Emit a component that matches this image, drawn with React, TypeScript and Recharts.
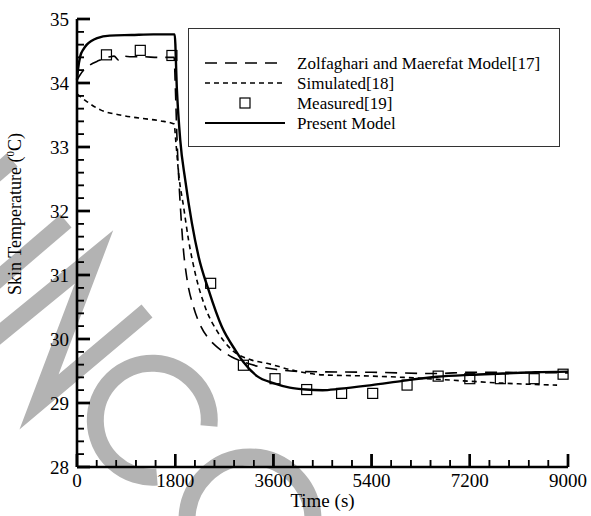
import React from "react";
import { ComposedChart, Line, Scatter, XAxis, YAxis, Legend } from "recharts";

if (typeof document !== "undefined") {
  document.body.style.margin = "0";
}

// ---- data ----
const presentTime = [0, 20, 60, 120, 180, 270, 370, 600, 1000, 1400, 1790, 1831, 1892, 1983, 2106, 2228, 2410, 2655, 2899, 3050, 3300, 3600, 3900, 4200, 4500, 4800, 5400, 6000, 6600, 7200, 7800, 8400, 9000];
const presentTemp = [34.05, 34.22, 34.42, 34.53, 34.6, 34.66, 34.7, 34.74, 34.75, 34.76, 34.76, 33.9, 33.11, 32.49, 31.81, 31.29, 30.77, 30.19, 29.83, 29.64, 29.42, 29.31, 29.24, 29.21, 29.2, 29.22, 29.28, 29.35, 29.41, 29.44, 29.46, 29.48, 29.49];

const zolfTime = [0, 100, 200, 400, 600, 680, 760, 850, 1000, 1200, 1500, 1780, 1800, 1830, 1860, 1900, 1950, 2014, 2136, 2258, 2400, 2533, 2700, 2838, 3000, 3200, 3600, 4200, 5400, 6600, 7200, 9000];
const zolfTemp = [34.05, 34.18, 34.26, 34.35, 34.41, 34.42, 34.36, 34.42, 34.41, 34.41, 34.4, 34.4, 34.0, 33.2, 32.6, 32.0, 31.4, 30.95, 30.5, 30.22, 30.02, 29.9, 29.79, 29.72, 29.66, 29.6, 29.53, 29.49, 29.48, 29.46, 29.48, 29.47];

const simTime = [0, 180, 430, 790, 1160, 1520, 1780, 1810, 1861, 1953, 2044, 2166, 2349, 2593, 2838, 3204, 3479, 3966, 4500, 5400, 6000, 6600, 7200, 7800, 8400, 8800];
const simTemp = [33.83, 33.71, 33.58, 33.5, 33.45, 33.41, 33.36, 33.1, 32.6, 32.07, 31.55, 31.03, 30.5, 30.09, 29.83, 29.67, 29.62, 29.51, 29.44, 29.42, 29.4, 29.37, 29.34, 29.31, 29.29, 29.28];

const measTime = [540, 1160, 1740, 2450, 3050, 3630, 4210, 4850, 5420, 6050, 6620, 7200, 7760, 8380, 8910];
const measTemp = [34.44, 34.51, 34.43, 30.87, 29.59, 29.38, 29.21, 29.15, 29.15, 29.28, 29.42, 29.38, 29.38, 29.38, 29.45];

const seriesNames = ["Zolfaghari and Maerefat Model[17]", "Simulated[18]", "Measured[19]", "Present Model"];

const xMajorTicks = [0, 1800, 3600, 5400, 7200, 9000];
const xMinorTicks = [360, 720, 1080, 1440, 2160, 2520, 2880, 3240, 3960, 4320, 4680, 5040, 5760, 6120, 6480, 6840, 7560, 7920, 8280, 8640];
const yMajorTicks = [28, 29, 30, 31, 32, 33, 34, 35];
const yMinorTicks = [28.2, 28.4, 28.6, 28.8, 29.2, 29.4, 29.6, 29.8, 30.2, 30.4, 30.6, 30.8, 31.2, 31.4, 31.6, 31.8, 32.2, 32.4, 32.6, 32.8, 33.2, 33.4, 33.6, 33.8, 34.2, 34.4, 34.6, 34.8];
const X_DOMAIN = [0, 9000];
const Y_DOMAIN = [28, 35];

const toRows = (ts: number[], vs: number[]) => ts.map((t, i) => ({ t, T: vs[i] }));
const presentData = toRows(presentTime, presentTemp);
const zolfData = toRows(zolfTime, zolfTemp);
const simData = toRows(simTime, simTemp);
const measData = toRows(measTime, measTemp);

const xTickMarks = [
  ...xMajorTicks.map((t) => ({ t, T: Y_DOMAIN[0], major: true })),
  ...xMinorTicks.map((t) => ({ t, T: Y_DOMAIN[0], major: false })),
];
const yTickMarks = [
  ...yMajorTicks.map((T) => ({ t: X_DOMAIN[0], T, major: true })),
  ...yMinorTicks.map((T) => ({ t: X_DOMAIN[0], T, major: false })),
];

// layout (style only)
const W = 591;
const H = 516;
const MARGIN = { top: 19, right: 23, left: 0, bottom: 0 };
const Y_AXIS_W = 77;
const X_AXIS_H = 49;
const PLOT = { left: Y_AXIS_W, right: W - MARGIN.right, top: MARGIN.top, bottom: H - X_AXIS_H };

const FONT = "'Liberation Serif', 'Times New Roman', serif";
const LONG_DASH = "12 8";
const SHORT_DASH = "5 4";
const FRAME = { stroke: "#000", strokeWidth: 2.6 };
const MAJ_LEN = 13;
const MIN_LEN = 7;
const MAJ_W = 2.4;
const MIN_W = 1.5;

const XLabel = (props: any) => {
  const x = Number(props.x);
  const y = Number(props.y);
  return (
    <text x={x} y={y + 20} textAnchor="middle" fontSize={19} fontFamily={FONT} fill="#000">
      {props.payload.value}
    </text>
  );
};

const YLabel = (props: any) => {
  const x = Number(props.x);
  const y = Number(props.y);
  return (
    <text x={x - 8} y={y + 6.5} textAnchor="end" fontSize={19} fontFamily={FONT} fill="#000">
      {props.payload.value}
    </text>
  );
};

const XTickMark = (props: any) => {
  const { cx, cy, payload } = props;
  if (cx == null || cy == null) return null;
  const major = payload && payload.major;
  const len = major ? MAJ_LEN : MIN_LEN;
  const w = major ? MAJ_W : MIN_W;
  return <rect x={cx - w / 2} y={cy - len} width={w} height={len} fill="#000" />;
};

const YTickMark = (props: any) => {
  const { cx, cy, payload } = props;
  if (cx == null || cy == null) return null;
  const major = payload && payload.major;
  const len = major ? MAJ_LEN : MIN_LEN;
  const w = major ? MAJ_W : MIN_W;
  return <rect x={cx} y={cy - w / 2} width={len} height={w} fill="#000" />;
};

// fallback overlay for the inward axis ticks (same linear axes as the chart)
const TickOverlay = () => {
  const sx = (t: number) => PLOT.left + ((t - X_DOMAIN[0]) / (X_DOMAIN[1] - X_DOMAIN[0])) * (PLOT.right - PLOT.left);
  const sy = (v: number) => PLOT.bottom - ((v - Y_DOMAIN[0]) / (Y_DOMAIN[1] - Y_DOMAIN[0])) * (PLOT.bottom - PLOT.top);
  return (
    <svg width={W} height={H} style={{ position: "absolute", left: 0, top: 0, pointerEvents: "none" }}>
      {xTickMarks.map((m, i) => {
        const len = m.major ? MAJ_LEN : MIN_LEN;
        const w = m.major ? MAJ_W : MIN_W;
        return <rect key={"x" + i} x={sx(m.t) - w / 2} y={PLOT.bottom - len} width={w} height={len} fill="#000" />;
      })}
      {yTickMarks.map((m, i) => {
        const len = m.major ? MAJ_LEN : MIN_LEN;
        const w = m.major ? MAJ_W : MIN_W;
        return <rect key={"y" + i} x={PLOT.left} y={sy(m.T) - w / 2} width={len} height={w} fill="#000" />;
      })}
    </svg>
  );
};

const Square = (props: any) => {
  const { cx, cy } = props;
  if (cx == null || cy == null) return null;
  return <rect x={cx - 5} y={cy - 5} width={10} height={10} fill="none" stroke="#000" strokeWidth={1.2} />;
};

const LegendBox = () => {
  const rowsY = [34, 54, 74, 94];
  return (
    <div style={{ width: 372, height: 119, border: "1px solid #333", boxSizing: "border-box", background: "#fff" }}>
      <svg width={370} height={117} style={{ display: "block" }}>
        <line x1={16} x2={96} y1={rowsY[0]} y2={rowsY[0]} stroke="#000" strokeWidth={1.6} strokeDasharray={LONG_DASH} />
        <line x1={16} x2={96} y1={rowsY[1]} y2={rowsY[1]} stroke="#000" strokeWidth={1.6} strokeDasharray={SHORT_DASH} />
        <rect x={56 - 5} y={rowsY[2] - 5} width={10} height={10} fill="none" stroke="#000" strokeWidth={1.2} />
        <line x1={16} x2={96} y1={rowsY[3]} y2={rowsY[3]} stroke="#000" strokeWidth={2.2} />
        {seriesNames.map((n, i) => (
          <text key={n} x={108} y={rowsY[i] + 6} fontSize={17} fontFamily={FONT} fill="#000">
            {n}
          </text>
        ))}
      </svg>
    </div>
  );
};

const XTitle = (props: any) => {
  const vb = props.viewBox || {};
  return (
    <text x={vb.x + vb.width / 2} y={507} textAnchor="middle" fontSize={19} fontFamily={FONT} fill="#000">
      Time (s)
    </text>
  );
};

const YTitle = () => {
  const cx = 21;
  const cy = 214;
  return (
    <text x={cx} y={cy} transform={`rotate(-90 ${cx} ${cy})`} textAnchor="middle" fontSize={18} fontFamily={FONT} fill="#000">
      Skin Temperature (
      <tspan fontSize={11} dy={-7}>0</tspan>
      <tspan dy={7}>C)</tspan>
    </text>
  );
};

const Watermark = () => (
  <svg width={W} height={H} style={{ position: "absolute", left: 0, top: 0 }}>
    <g stroke="#b3b3b3" strokeWidth={17} fill="none" strokeLinejoin="miter" strokeMiterlimit={10}>
      <line x1={-10} y1={179} x2={12} y2={160} />
      <line x1={-10} y1={286} x2={66} y2={221} />
      <polyline points="-10,342 94,257 39,402 147,311" />
      <path d="M 209 426 A 57 57 0 1 0 157 477" />
      <circle cx={250} cy={520} r={63} />
    </g>
  </svg>
);

export default function App() {
  return (
    <div style={{ position: "relative", width: W, height: H }}>
      <Watermark />
      <div style={{ position: "absolute", left: 0, top: 0 }}>
        <ComposedChart width={W} height={H} margin={MARGIN}>
          <XAxis
            dataKey="t"
            type="number"
            domain={X_DOMAIN}
            ticks={xMajorTicks}
            interval={0}
            tick={<XLabel />}
            tickLine={false}
            axisLine={FRAME}
            tickSize={0}
            tickMargin={0}
            height={X_AXIS_H}
            label={<XTitle />}
          />
          <XAxis xAxisId="top" orientation="top" dataKey="t" type="number" domain={X_DOMAIN} tick={false} tickLine={false} axisLine={FRAME} height={0} />
          <YAxis
            type="number"
            domain={Y_DOMAIN}
            ticks={yMajorTicks}
            interval={0}
            tick={<YLabel />}
            tickLine={false}
            axisLine={FRAME}
            tickSize={0}
            tickMargin={0}
            width={Y_AXIS_W}
            label={<YTitle />}
          />
          <YAxis yAxisId="right" orientation="right" type="number" domain={Y_DOMAIN} tick={false} tickLine={false} axisLine={FRAME} width={0} />
          <Scatter data={xTickMarks} dataKey="T" shape={<XTickMark />} legendType="none" isAnimationActive={false} />
          <Scatter data={yTickMarks} dataKey="T" shape={<YTickMark />} legendType="none" isAnimationActive={false} />
          <Line data={zolfData} dataKey="T" name={seriesNames[0]} type="monotone" stroke="#000" strokeWidth={1.6} strokeDasharray={LONG_DASH} dot={false} isAnimationActive={false} />
          <Line data={simData} dataKey="T" name={seriesNames[1]} type="monotone" stroke="#000" strokeWidth={1.6} strokeDasharray={SHORT_DASH} dot={false} isAnimationActive={false} />
          <Scatter data={measData} dataKey="T" name={seriesNames[2]} shape={<Square />} isAnimationActive={false} />
          <Line data={presentData} dataKey="T" name={seriesNames[3]} type="monotone" stroke="#000" strokeWidth={2.4} dot={false} isAnimationActive={false} />
          <Legend
            content={<LegendBox />}
            layout="horizontal"
            verticalAlign="middle"
            align="center"
            wrapperStyle={{ left: 188, top: 28, width: 372, height: 119 }}
          />
        </ComposedChart>
      </div>
      <TickOverlay />
    </div>
  );
}
